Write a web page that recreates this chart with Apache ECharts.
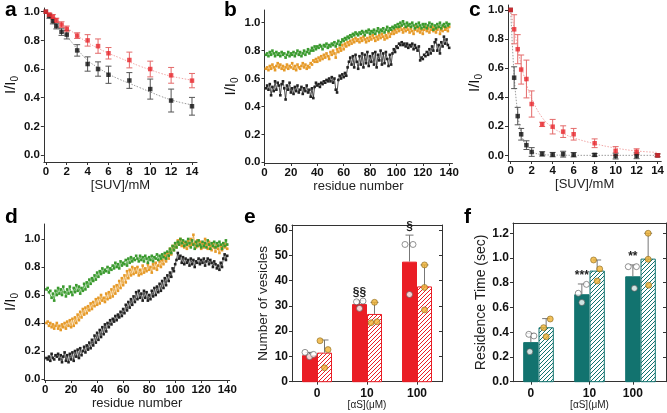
<!DOCTYPE html>
<html><head><meta charset="utf-8">
<script src="https://cdn.jsdelivr.net/npm/echarts@6/dist/echarts.min.js"></script>
<style>html,body{margin:0;padding:0;background:#fff}#c{width:667px;height:413px}</style>
</head><body><div id="c"></div>
<script>
// ---------- data ----------
const SUV = [0,0.33,0.67,1,1.5,2,3,4,5,6,8,10,12,14];
const A_BLACK = [1.0,0.97,0.935,0.90,0.86,0.84,0.73,0.635,0.60,0.56,0.52,0.46,0.38,0.34];
const A_BLACK_ERR = [0,0.015,0.02,0.02,0.025,0.03,0.04,0.05,0.05,0.06,0.055,0.07,0.08,0.062];
const A_RED = [1.0,0.98,0.965,0.94,0.91,0.88,0.833,0.80,0.76,0.71,0.663,0.60,0.556,0.519];
const A_RED_ERR = [0,0.01,0.015,0.015,0.02,0.02,0.02,0.04,0.05,0.04,0.055,0.055,0.055,0.05];
const FIT_X = [0,1,2,3,4,5,6,7,8,9,10,11,12,13,14];
const A_BLACK_FIT = [1.0,0.91,0.83,0.74,0.66,0.61,0.565,0.53,0.50,0.47,0.44,0.41,0.385,0.365,0.35];
const A_RED_FIT = [1.0,0.945,0.89,0.835,0.785,0.745,0.71,0.68,0.65,0.62,0.595,0.57,0.55,0.535,0.522];

const C_BLACK = [1.0,0.534,0.27,0.145,0.07,0.023,0.01,0.005,0.008,0.004,0.003,-0.005,-0.003,0.0];
const C_BLACK_ERR = [0,0.075,0.06,0.04,0.03,0.03,0.015,0.015,0.02,0.015,0.01,0.02,0.02,0.01];
const C_RED = [1.0,0.867,0.73,0.59,0.525,0.353,0.213,0.197,0.163,0.145,0.083,0.03,0.025,0.0];
const C_RED_ERR = [0,0.1,0.1,0.1,0.13,0.09,0.015,0.05,0.04,0.04,0.03,0.03,0.02,0.01];
const C_BLACK_FIT = [1.0,0.55,0.29,0.15,0.06,0.025,0.005,0.002,0.001,0,0,0,0,0];
const C_RED_FIT = [1.0,0.87,0.74,0.62,0.49,0.39,0.26,0.19,0.15,0.12,0.08,0.05,0.03,0.02];

const B_BLACK = [
0.53,0.55,0.52,0.56,0.48,0.54,0.51,0.58,0.52,0.57,
0.55,0.48,0.56,0.58,0.53,0.45,0.55,0.52,0.57,0.50,
0.53,0.49,0.54,0.51,0.55,0.50,0.52,0.54,0.49,0.53,
0.51,0.55,0.50,0.52,0.47,0.53,0.46,0.54,0.57,0.55,
0.56,0.54,0.57,0.56,0.58,0.57,0.59,0.58,0.60,0.58,
0.61,0.57,0.60,0.52,0.50,0.59,0.62,0.60,0.63,0.61,
0.64,0.62,0.68,0.72,0.75,0.70,0.76,0.68,0.77,0.72,
0.67,0.76,0.70,0.78,0.68,0.77,0.71,0.79,0.69,0.76,
0.72,0.78,0.70,0.79,0.68,0.77,0.73,0.80,0.70,0.78,
0.71,0.79,0.74,0.69,0.77,0.70,0.78,0.81,0.79,0.83,
0.82,0.85,0.84,0.86,0.84,0.85,0.83,0.85,0.82,0.84,
0.83,0.85,0.81,0.84,0.82,0.80,0.83,0.73,0.75,0.74,
0.77,0.76,0.79,0.77,0.81,0.78,0.83,0.80,0.86,0.88,
0.80,0.84,0.78,0.86,0.83,0.90,0.85,0.88,0.84,0.82];
const B_ORANGE = [
0.67,0.68,0.66,0.69,0.67,0.70,0.68,0.66,0.69,0.71,
0.68,0.70,0.67,0.69,0.66,0.68,0.70,0.67,0.69,0.68,
0.71,0.67,0.69,0.66,0.70,0.68,0.67,0.69,0.71,0.68,
0.70,0.67,0.69,0.68,0.71,0.70,0.73,0.72,0.74,0.72,
0.75,0.73,0.76,0.74,0.77,0.75,0.78,0.76,0.74,0.79,
0.77,0.80,0.78,0.75,0.81,0.79,0.82,0.80,0.84,0.81,
0.85,0.83,0.86,0.84,0.87,0.85,0.88,0.86,0.89,0.87,
0.88,0.86,0.89,0.87,0.90,0.88,0.86,0.89,0.87,0.90,
0.88,0.91,0.89,0.87,0.90,0.88,0.91,0.89,0.92,0.90,
0.88,0.91,0.89,0.93,0.90,0.92,0.94,0.92,0.95,0.93,
0.96,0.94,0.97,0.95,0.93,0.96,0.94,0.97,0.95,0.93,
0.96,0.94,0.92,0.95,0.97,0.94,0.96,0.93,0.95,0.92,
0.95,0.97,0.94,0.96,0.93,0.95,0.97,0.94,0.96,0.93,
0.95,0.97,0.92,0.95,0.94,0.97,0.95,0.96,0.94,0.97];
const B_GREEN = [
0.77,0.78,0.76,0.79,0.77,0.80,0.78,0.76,0.79,0.77,
0.78,0.76,0.79,0.77,0.78,0.75,0.77,0.79,0.76,0.78,
0.77,0.79,0.76,0.78,0.80,0.77,0.79,0.76,0.78,0.80,
0.77,0.79,0.81,0.78,0.80,0.82,0.80,0.83,0.81,0.83,
0.82,0.84,0.83,0.81,0.84,0.83,0.85,0.82,0.84,0.83,
0.85,0.84,0.86,0.83,0.85,0.87,0.84,0.86,0.88,0.87,
0.89,0.88,0.90,0.89,0.91,0.90,0.92,0.91,0.93,0.92,
0.91,0.93,0.92,0.94,0.93,0.91,0.94,0.93,0.95,0.92,
0.94,0.93,0.95,0.92,0.94,0.96,0.93,0.95,0.94,0.96,
0.93,0.95,0.97,0.94,0.96,0.95,0.97,0.96,0.98,0.97,
0.99,0.97,1.00,0.98,1.01,0.99,0.97,1.00,0.98,0.99,
0.97,1.00,0.98,0.96,0.99,0.97,1.00,0.98,0.96,0.99,
0.97,0.99,0.96,0.98,1.00,0.97,0.99,0.95,0.98,0.96,
0.99,0.97,1.00,0.96,0.98,0.99,0.97,1.00,0.98,0.99];

const D_BLACK = [
0.15,0.14,0.16,0.13,0.18,0.15,0.14,0.17,0.16,0.18,
0.14,0.17,0.12,0.16,0.19,0.13,0.17,0.12,0.18,0.14,
0.19,0.13,0.20,0.16,0.21,0.15,0.22,0.17,0.20,0.23,
0.19,0.24,0.21,0.26,0.22,0.28,0.24,0.31,0.26,0.33,
0.28,0.35,0.30,0.37,0.32,0.39,0.34,0.40,0.37,0.42,
0.39,0.43,0.41,0.45,0.42,0.46,0.44,0.48,0.45,0.50,
0.47,0.53,0.49,0.55,0.51,0.57,0.53,0.59,0.55,0.62,
0.57,0.63,0.58,0.61,0.56,0.63,0.58,0.62,0.56,0.60,
0.57,0.63,0.59,0.65,0.60,0.66,0.62,0.68,0.63,0.70,
0.65,0.72,0.67,0.74,0.70,0.76,0.73,0.79,0.77,0.82,
0.85,0.90,0.86,0.88,0.83,0.87,0.82,0.86,0.83,0.85,
0.81,0.86,0.82,0.85,0.80,0.84,0.83,0.86,0.82,0.85,
0.83,0.86,0.81,0.84,0.86,0.82,0.85,0.83,0.80,0.84,
0.82,0.79,0.81,0.78,0.83,0.80,0.86,0.89,0.85,0.88];
const D_ORANGE = [
0.40,0.41,0.38,0.40,0.37,0.39,0.36,0.38,0.40,0.36,
0.38,0.35,0.39,0.37,0.40,0.36,0.41,0.38,0.42,0.37,
0.43,0.38,0.44,0.40,0.46,0.42,0.48,0.44,0.50,0.46,
0.51,0.47,0.52,0.49,0.54,0.50,0.55,0.52,0.57,0.53,
0.58,0.54,0.60,0.56,0.58,0.55,0.61,0.57,0.62,0.58,
0.64,0.59,0.66,0.61,0.67,0.63,0.70,0.65,0.72,0.67,
0.74,0.69,0.77,0.72,0.78,0.74,0.80,0.75,0.79,0.76,
0.80,0.74,0.78,0.75,0.81,0.76,0.79,0.77,0.82,0.78,
0.80,0.76,0.82,0.79,0.83,0.78,0.81,0.84,0.80,0.85,
0.82,0.88,0.84,0.90,0.86,0.93,0.89,0.95,0.92,0.97,
0.94,0.99,0.96,1.00,0.95,0.98,0.94,0.97,0.93,0.99,
0.95,1.00,0.96,1.03,0.97,0.94,0.99,0.95,0.98,0.93,
0.97,0.94,1.00,0.96,0.93,0.98,0.95,0.92,0.97,0.94,
0.91,0.96,0.93,0.90,0.95,0.92,0.97,0.94,0.96,0.93];
const D_GREEN = [
0.64,0.65,0.62,0.63,0.58,0.61,0.56,0.63,0.60,0.65,
0.61,0.64,0.60,0.66,0.62,0.59,0.64,0.61,0.66,0.62,
0.60,0.65,0.62,0.67,0.63,0.66,0.61,0.65,0.63,0.68,
0.64,0.69,0.66,0.71,0.68,0.72,0.70,0.74,0.71,0.76,
0.73,0.77,0.75,0.79,0.76,0.78,0.77,0.80,0.76,0.79,
0.78,0.81,0.79,0.83,0.80,0.82,0.79,0.84,0.81,0.83,
0.82,0.85,0.81,0.86,0.83,0.87,0.84,0.86,0.85,0.88,
0.86,0.84,0.88,0.85,0.87,0.84,0.88,0.86,0.83,0.87,
0.85,0.88,0.84,0.87,0.86,0.89,0.85,0.88,0.86,0.89,
0.87,0.90,0.86,0.91,0.88,0.93,0.90,0.95,0.92,0.97,
0.94,0.98,0.96,1.00,0.97,0.99,0.95,0.98,0.96,1.00,
0.97,0.94,0.99,0.96,0.93,0.98,0.95,0.99,0.96,0.94,
0.98,0.95,0.97,0.94,0.99,0.96,0.93,0.97,0.95,0.98,
0.94,0.97,0.95,0.98,0.96,0.93,0.97,0.95,0.99,0.96];

const CONC = ['0','10','100'];
const E_SOLID = [10.5,30.7,47.5];
const E_SOLID_TOP = [11.6,32.0,58.0];
const E_HATCH = [11.5,26.8,37.7];
const E_HATCH_TOP = [16.5,31.4,46.2];
const E_SOLID_PTS = [[-0.09,11.6],[0,9.9],[0.08,10.8],[0.94,31.6],[1.07,31.9],[1,29.0],[1.91,54.3],[2.07,54.3],[2,34.5]];
const E_HATCH_PTS = [[-0.09,16.2],[0.07,12.7],[0,5.5],[1,31.4],[0.93,23.3],[1.05,23.7],[2,46.2],[2,37.3],[2,28.4]];
const E_SIG = ['', '§§', '§'];

const F_SOLID = [0.32,0.707,0.852];
const F_SOLID_TOP = [0.39,0.79,0.944];
const F_HATCH = [0.44,0.898,0.995];
const F_HATCH_TOP = [0.51,0.984,1.2];
const F_SOLID_PTS = [[-0.02,0.243],[-0.04,0.383],[0.06,0.37],[0.93,0.715],[1,0.64],[1.09,0.787],[1.91,0.93],[2.07,0.93],[2.03,0.755]];
const F_HATCH_PTS = [[-0.05,0.437],[0.08,0.507],[0,0.364],[0.93,0.984],[1.05,0.912],[1,0.814],[2,1.2],[2,0.99],[2.01,0.78]];
const F_SIG = ['', '***', '**'];

const RESIDUE = B_BLACK.map((_, i) => i + 1);

// ---------- helpers ----------
const FONT = 'Liberation Sans, Arial, sans-serif';
const AX = '#333';
const zip = (xs, ys) => xs.map((x, i) => [x, ys[i]]);
const zip3 = (xs, ys, es) => xs.map((x, i) => [x, ys[i], es[i]]);
const rng = (a, b, s) => { const r = []; for (let v = a; v <= b + 1e-9; v += s) r.push(+v.toFixed(4)); return r; };

function axis(pos, grid, min, max, ticks, fmt, extra) {
  const o = {
    type: 'value', gridIndex: grid, position: pos, min: min, max: max,
    axisLine: { show: true, onZero: false, lineStyle: { color: AX, width: 1 } },
    axisTick: { show: true, length: 3, lineStyle: { color: AX }, customValues: ticks },
    axisLabel: { show: true, customValues: ticks, formatter: fmt, color: '#111', fontFamily: FONT,
                 fontWeight: 'bold', fontSize: 11.5, margin: 4 },
    splitLine: { show: false }
  };
  return Object.assign(o, extra || {});
}
const f1 = v => v.toFixed(1);
const f0 = v => String(Math.round(v));
const IName = { rich: { a: { fontFamily: FONT, fontSize: 15, color: '#111', lineHeight: 20 },
                        b: { fontFamily: FONT, fontSize: 10, color: '#111', lineHeight: 20, padding: [9, 0, 0, 0] } } };
const xName = (n, gap) => ({ name: n, nameLocation: 'middle', nameGap: gap,
  nameTextStyle: { fontFamily: FONT, fontSize: 13, color: '#222' } });
const yIName = (gap) => ({ name: '{a|I/I}{b|0}', nameLocation: 'middle', nameGap: gap, nameTextStyle: IName });

function hatch(color) {
  const c = document.createElement('canvas'); c.width = 4; c.height = 4;
  const g = c.getContext('2d');
  g.fillStyle = '#fff'; g.fillRect(0, 0, 4, 4);
  g.strokeStyle = color; g.lineWidth = 1;
  g.beginPath();
  g.moveTo(-1, 5); g.lineTo(5, -1);
  g.moveTo(-1, 1); g.lineTo(1, -1);
  g.moveTo(3, 5); g.lineTo(5, 3);
  g.stroke();
  return c;
}

function errSeries(x, y, idx, data, color) {
  return { type: 'custom', xAxisIndex: x, yAxisIndex: y, z: 3, data: data,
    renderItem: (p, api) => {
      const xv = api.value(0), yv = api.value(1), e = api.value(2);
      if (!e) return null;
      const t = api.coord([xv, yv + e]), b = api.coord([xv, yv - e]); const h = 3;
      const st = { stroke: color, lineWidth: 1 };
      return { type: 'group', children: [
        { type: 'line', shape: { x1: t[0], y1: t[1], x2: b[0], y2: b[1] }, style: st },
        { type: 'line', shape: { x1: t[0] - h, y1: t[1], x2: t[0] + h, y2: t[1] }, style: st },
        { type: 'line', shape: { x1: b[0] - h, y1: b[1], x2: b[0] + h, y2: b[1] }, style: st }
      ] };
    } };
}
function pts(x, y, data, color, size) {
  return { type: 'scatter', xAxisIndex: x, yAxisIndex: y, z: 4, data: data, symbol: 'rect', symbolSize: size || 4.5,
    itemStyle: { color: color }, silent: true };
}
function fit(x, y, data, color) {
  return { type: 'line', xAxisIndex: x, yAxisIndex: y, z: 2, data: data, smooth: 0.4, symbol: 'none',
    lineStyle: { color: color, width: 1, type: [1.5, 1.5] } };
}
function prof(x, y, vals, color) {
  return { type: 'line', xAxisIndex: x, yAxisIndex: y, data: zip(RESIDUE, vals), symbol: 'rect', symbolSize: 2.6,
    showAllSymbol: true, itemStyle: { color: color }, lineStyle: { color: color, width: 0.8 } };
}
const BW = 0.3;
function bars(x, y, vals, off, fill, stroke) {
  return { type: 'custom', xAxisIndex: x, yAxisIndex: y, z: 2, data: vals.map((v, i) => [i, v]),
    renderItem: (p, api) => {
      const c = api.value(0) + off, v = api.value(1);
      const w = api.size([BW, 0])[0];
      const p0 = api.coord([c, 0]), p1 = api.coord([c, v]);
      return { type: 'rect', shape: { x: p0[0] - w / 2 + 0.5, y: p1[1] + 0.5, width: w - 1, height: p0[1] - p1[1] - 0.5 },
               style: { fill: fill, stroke: stroke, lineWidth: 1 } };
    } };
}
function barErr(x, y, vals, tops, off) {
  return { type: 'custom', xAxisIndex: x, yAxisIndex: y, z: 3, data: vals.map((v, i) => [i, v, tops[i]]),
    renderItem: (p, api) => {
      const c = api.value(0) + off;
      const a = api.coord([c, api.value(1)]), t = api.coord([c, api.value(2)]); const h = 4;
      const st = { stroke: '#777', lineWidth: 1 };
      return { type: 'group', children: [
        { type: 'line', shape: { x1: a[0], y1: a[1], x2: t[0], y2: t[1] }, style: st },
        { type: 'line', shape: { x1: t[0] - h, y1: t[1], x2: t[0] + h, y2: t[1] }, style: st }
      ] };
    } };
}
function dots(x, y, data, off, fill, stroke) {
  return { type: 'scatter', xAxisIndex: x, yAxisIndex: y, z: 5, data: data.map(d => [d[0] + off, d[1]]),
    symbol: 'circle', symbolSize: 6, itemStyle: { color: fill, borderColor: stroke, borderWidth: 0.8 }, silent: true };
}
function sig(x, y, tops, labels, off) {
  return { type: 'custom', xAxisIndex: x, yAxisIndex: y, z: 6, data: tops.map((t, i) => [i, t]),
    renderItem: (p, api) => {
      const s = labels[p.dataIndex]; if (!s) return null;
      const pt = api.coord([api.value(0) + off, api.value(1)]);
      return { type: 'text', x: pt[0], y: pt[1] - 2,
        style: { text: s, fill: '#222', font: 'bold 12px ' + FONT, align: 'center', verticalAlign: 'bottom' } };
    } };
}

// ---------- option ----------
const grids = [
  { left: 43, top: 8, width: 154, height: 154 },
  { left: 264.5, top: 10, width: 188, height: 153 },
  { left: 508, top: 5, width: 154, height: 156 },
  { left: 42.7, top: 224, width: 187, height: 156 },
  { left: 292, top: 225, width: 150, height: 156.7 },
  { left: 513, top: 223, width: 153, height: 158.7 }
];
const t02 = rng(0, 1, 0.2), t2 = rng(0, 14, 2), t20 = rng(0, 140, 20);
const catFmt = v => CONC[Math.round(v)] !== undefined ? CONC[Math.round(v)] : '';
const bigLbl = { fontSize: 12 };

const xAxes = [
  Object.assign(axis('bottom', 0, -0.19, 14.48, t2, f0), xName('[SUV]/mM', 14)),
  Object.assign(axis('bottom', 1, 0, 142.5, t20, f0), xName('residue number', 15)),
  Object.assign(axis('bottom', 2, -0.256, 14.35, t2, f0), xName('[SUV]/mM', 14)),
  Object.assign(axis('bottom', 3, -0.46, 141.9, t20, f0), xName('residue number', 15)),
  Object.assign(axis('bottom', 4, -0.5, 2.5, [0, 1, 2], catFmt), { name: '[αS](μM)', nameLocation: 'middle', nameGap: 19,
    nameTextStyle: { fontFamily: FONT, fontSize: 10, color: '#222' } }),
  Object.assign(axis('bottom', 5, -0.5, 2.5, [-0.15, 1, 1.85], v => v < 0 ? '0' : (v > 1.5 ? '100' : '10')), { name: '[αS](μM)', nameLocation: 'middle', nameGap: 19,
    nameTextStyle: { fontFamily: FONT, fontSize: 10, color: '#222' } }),
  Object.assign(axis('top', 4, -0.5, 2.5, [], f0), { axisTick: { show: false }, axisLabel: { show: false } }),
  Object.assign(axis('top', 5, -0.5, 2.5, [], f0), { axisTick: { show: false }, axisLabel: { show: false } })
];
xAxes[4].axisLabel.fontSize = 12; xAxes[4].axisLabel.margin = 6;
xAxes[5].axisLabel.fontSize = 12; xAxes[5].axisLabel.margin = 6;
xAxes[4].axisTick.length = 3; xAxes[5].axisTick.length = 3;

const yAxes = [
  Object.assign(axis('left', 0, -0.049, 1.026, t02, f1), yIName(22)),
  Object.assign(axis('left', 1, -0.005, 1.091, t02, f1), yIName(23)),
  Object.assign(axis('left', 2, -0.039, 1.034, t02, f1), yIName(21)),
  Object.assign(axis('left', 3, -0.007, 1.107, t02, f1), yIName(24)),
  Object.assign(axis('left', 4, 0, 62, rng(0, 60, 10), f0), { name: 'Number of vesicles', nameLocation: 'middle', nameGap: 20,
    nameTextStyle: { fontFamily: FONT, fontSize: 13.5, color: '#222' } }),
  Object.assign(axis('left', 5, 0, 1.283, t02.concat([1.2]), f1), { name: 'Residence Time (sec)', nameLocation: 'middle', nameGap: 23,
    nameTextStyle: { fontFamily: FONT, fontSize: 14, color: '#222' } }),
  Object.assign(axis('right', 4, 0, 62, rng(0, 60, 10), f0), { axisLabel: { show: false } }),
  Object.assign(axis('right', 5, 0, 1.283, rng(0, 1.2, 0.2), f1), { axisLabel: { show: false } })
];
yAxes[4].axisLabel.fontSize = 12; yAxes[5].axisLabel.fontSize = 12;
yAxes[6].axisTick.inside = true; yAxes[7].axisTick.inside = true;
yAxes[6].axisTick.customValues = rng(0, 60, 10); yAxes[7].axisTick.customValues = rng(0, 1.2, 0.2);

const RED = '#e8282e', BLK = '#111', ORG = '#e69a28', GRN = '#3a9a2e';
const EREd = '#ea1d25', TEAL = '#12736f';

const series = [
  // a
  fit(0, 0, zip(FIT_X, A_BLACK_FIT), '#9a9a9a'),
  fit(0, 0, zip(FIT_X, A_RED_FIT), '#f2a7a7'),
  errSeries(0, 0, 0, zip3(SUV, A_BLACK, A_BLACK_ERR), '#555'),
  errSeries(0, 0, 0, zip3(SUV, A_RED, A_RED_ERR), '#e46a6a'),
  pts(0, 0, zip(SUV, A_BLACK), BLK),
  pts(0, 0, zip(SUV, A_RED), RED),
  // b
  prof(1, 1, B_BLACK, '#222'),
  prof(1, 1, B_ORANGE, ORG),
  prof(1, 1, B_GREEN, GRN),
  // c
  fit(2, 2, zip(SUV, C_BLACK_FIT), '#9a9a9a'),
  fit(2, 2, zip(SUV, C_RED_FIT), '#f2a7a7'),
  errSeries(2, 2, 0, zip3(SUV, C_BLACK, C_BLACK_ERR), '#555'),
  errSeries(2, 2, 0, zip3(SUV, C_RED, C_RED_ERR), '#e46a6a'),
  pts(2, 2, zip(SUV, C_BLACK), BLK),
  pts(2, 2, zip(SUV, C_RED), RED),
  // d
  prof(3, 3, D_BLACK, '#222'),
  prof(3, 3, D_ORANGE, ORG),
  prof(3, 3, D_GREEN, GRN),
  // e
  bars(4, 4, E_SOLID, -0.15, EREd, EREd),
  bars(4, 4, E_HATCH, 0.15, { image: hatch(EREd), repeat: 'repeat' }, EREd),
  barErr(4, 4, E_SOLID, E_SOLID_TOP, -0.15),
  barErr(4, 4, E_HATCH, E_HATCH_TOP, 0.15),
  dots(4, 4, E_SOLID_PTS, -0.15, '#ffffff', '#555'),
  dots(4, 4, E_HATCH_PTS, 0.15, '#f0b232', '#8a6a1e'),
  sig(4, 4, E_SOLID_TOP, E_SIG, -0.15),
  // f
  bars(5, 5, F_SOLID, -0.15, TEAL, TEAL),
  bars(5, 5, F_HATCH, 0.15, { image: hatch(TEAL), repeat: 'repeat' }, TEAL),
  barErr(5, 5, F_SOLID, F_SOLID_TOP, -0.15),
  barErr(5, 5, F_HATCH, F_HATCH_TOP, 0.15),
  dots(5, 5, F_SOLID_PTS, -0.15, '#ffffff', '#555'),
  dots(5, 5, F_HATCH_PTS, 0.15, '#f0b232', '#8a6a1e'),
  sig(5, 5, F_SOLID_TOP, F_SIG, -0.15)
];

const labelFont = 'bold 21px ' + FONT;
const panelLabels = [['a', 5, 0], ['b', 224, 0], ['c', 469, 0], ['d', 5, 207], ['e', 244, 207], ['f', 464, 207]];

const chart = echarts.init(document.getElementById('c'), null, { renderer: 'canvas' });
chart.setOption({
  animation: false,
  backgroundColor: '#fff',
  grid: grids,
  xAxis: xAxes,
  yAxis: yAxes,
  series: series,
  graphic: panelLabels.map(l => ({ type: 'text', left: l[1], top: l[2], silent: true,
    style: { text: l[0], font: labelFont, fill: '#000' } }))
});
</script></body></html>
